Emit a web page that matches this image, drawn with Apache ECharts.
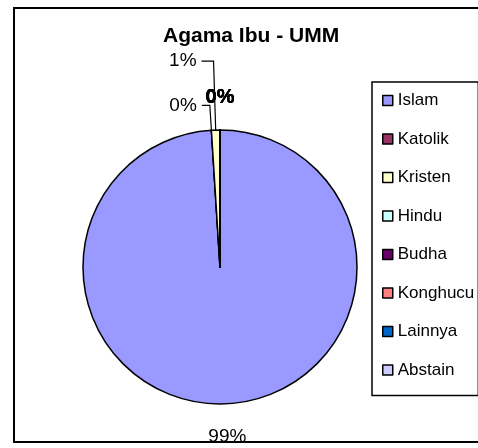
<!DOCTYPE html>
<html>
<head>
<meta charset="utf-8">
<script src="https://cdn.jsdelivr.net/npm/echarts@6/dist/echarts.min.js"></script>
<style>
  html, body { margin: 0; padding: 0; background: #fff; }
  #chartAgama { width: 478px; height: 448px; }
</style>
</head>
<body>
<div id="chartAgama"></div>
<script>
  // data agama ibu (persen)
  var kategori = ['Islam', 'Katolik', 'Kristen', 'Hindu', 'Budha', 'Konghucu', 'Lainnya', 'Abstain'];
  var nilai = [99, 0, 1, 0, 0, 0, 0, 0];
  var warna = ['#9999FF', '#993366', '#FFFFCC', '#CCFFFF', '#660066', '#FF8080', '#0066CC', '#CCCCFF'];

  var font = 'Liberation Sans, Arial, sans-serif';

  // gaya label per potongan (panjang garis penunjuk)
  function labelItem (i) {
    if (i === 0) return { label: {}, labelLine: { show: false, length: 33, length2: 0 } };
    if (i === 1) return { label: {}, labelLine: { show: true, length: 25, length2: 8 } };
    if (i === 2) return { label: {}, labelLine: { show: true, length: 69, length2: 12 } };
    return { label: { fontWeight: 'bold', fontSize: 20 }, labelLine: { show: false, length: 33, length2: 0 } };
  }

  var dataPie = kategori.map(function (n, i) {
    var s = labelItem(i);
    return {
      name: n,
      value: nilai[i],
      itemStyle: { color: warna[i] },
      label: s.label,
      labelLine: s.labelLine
    };
  });

  var chart = echarts.init(document.getElementById('chartAgama'));
  var option = {
    animation: false,
    backgroundColor: '#fff',
    title: {
      text: 'Agama Ibu - UMM',
      left: 163,
      top: 26,
      padding: 0,
      textStyle: { fontSize: 21, fontWeight: 'bold', color: '#000', fontFamily: font }
    },
    legend: {
      orient: 'vertical',
      left: 372,
      top: 82,
      padding: [10, 4, 17, 10],
      borderColor: '#000',
      borderWidth: 1.5,
      icon: 'rect',
      itemWidth: 10,
      itemHeight: 10,
      itemGap: 21.5,
      itemStyle: { borderColor: '#000', borderWidth: 1.5 },
      textStyle: { fontSize: 17, color: '#000', fontFamily: font, lineHeight: 16 },
      data: kategori
    },
    graphic: [{
      type: 'rect',
      silent: true,
      shape: { x: 14, y: 8, width: 480, height: 434 },
      style: { fill: 'none', stroke: '#000', lineWidth: 2 }
    }],
    series: [{
      type: 'pie',
      center: [220, 267],
      radius: 137,
      startAngle: 90,
      clockwise: true,
      avoidLabelOverlap: false,
      percentPrecision: 0,
      itemStyle: { borderColor: '#000', borderWidth: 1.5 },
      label: {
        position: 'outside',
        formatter: '{d}%',
        fontSize: 19,
        color: '#000',
        fontFamily: font
      },
      labelLine: { lineStyle: { color: '#000', width: 1.2 } },
      labelLayout: function (p) {
        if (p.dataIndex === 0) return { align: 'center', dx: -3 };
        if (p.dataIndex >= 3) return { align: 'center', dx: 5 };
      },
      emphasis: { disabled: true },
      data: dataPie
    }]
  };
  chart.setOption(option, true);
</script>
</body>
</html>
